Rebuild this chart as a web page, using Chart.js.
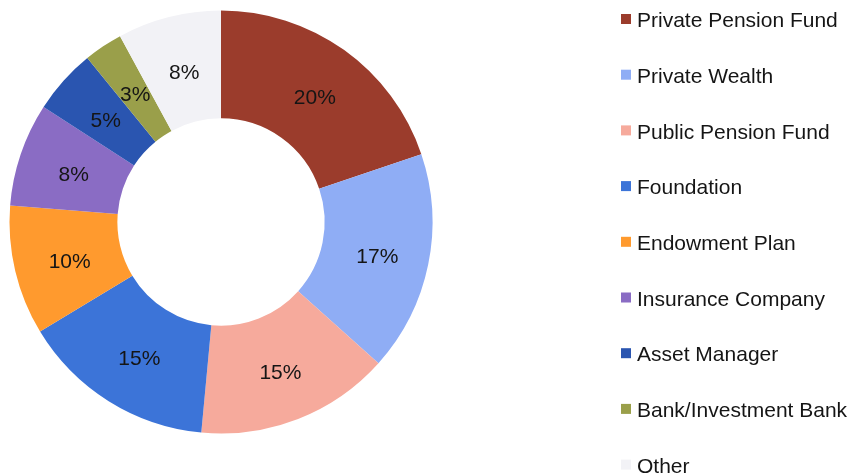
<!DOCTYPE html>
<html>
<head>
<meta charset="utf-8">
<script src="https://cdn.jsdelivr.net/npm/chart.js@4/dist/chart.umd.min.js"></script>
<style>
    html, body { margin: 0; padding: 0; background: #ffffff; }
    #wrap { width: 854px; height: 476px; position: relative; }
</style>
</head>
<body>
<div id="wrap"><canvas id="donut" width="854" height="476"></canvas></div>
<script>
// categories and shares (%)
const categories = [
    'Private Pension Fund', 'Private Wealth', 'Public Pension Fund', 'Foundation',
    'Endowment Plan', 'Insurance Company', 'Asset Manager', 'Bank/Investment Bank', 'Other'
];
const shares = [20, 17, 15, 15, 10, 8, 5, 3, 8];
const sliceColors = [
    '#9b3c2c', '#8fadf5', '#f6aa9c', '#3c74d8',
    '#ff9a2e', '#8a6cc4', '#2a55b0', '#9a9f4a', '#f2f2f6'
];

const FONT = "'Liberation Sans', Arial, sans-serif";

// percentage labels in the middle of each ring slice
const sliceLabels = {
    id: 'sliceLabels',
    afterDatasetsDraw(chart) {
        const ctx = chart.ctx;
        const meta = chart.getDatasetMeta(0);
        ctx.save();
        ctx.font = '21px ' + FONT;
        ctx.fillStyle = '#151515';
        ctx.textAlign = 'center';
        ctx.textBaseline = 'middle';
        meta.data.forEach(function(arc, i) {
            const p = arc.tooltipPosition();
            ctx.fillText(shares[i] + '%', p.x + 2, p.y + 4);
        });
        ctx.restore();
    }
};

// legend column on the right
const sideLegend = {
    id: 'sideLegend',
    afterDraw(chart) {
        const ctx = chart.ctx;
        ctx.save();
        ctx.font = '21px ' + FONT;
        ctx.textBaseline = 'middle';
        categories.forEach(function(name, i) {
            const y = 20 + i * 55.7;
            ctx.fillStyle = sliceColors[i];
            ctx.fillRect(621, y - 6, 10, 10);
            ctx.fillStyle = '#151515';
            ctx.fillText(name, 637, y + 1.5);
        });
        ctx.restore();
    }
};

const ctx = document.getElementById('donut').getContext('2d');

new Chart(ctx, {
    type: 'doughnut',
    data: {
        labels: categories,
        datasets: [{
            data: shares,
            backgroundColor: sliceColors,
            borderWidth: 0
        }]
    },
    options: {
        responsive: false,
        animation: false,
        cutout: '49%',
        layout: {
            padding: { left: 9.5, right: 421.5, top: 10.5, bottom: 42.5 }
        },
        plugins: {
            legend: { display: false },
            tooltip: { enabled: false }
        }
    },
    plugins: [sliceLabels, sideLegend]
});
</script>
</body>
</html>
